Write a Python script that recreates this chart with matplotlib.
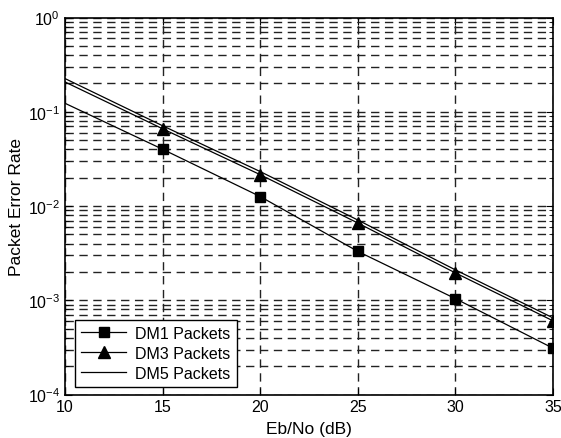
import numpy as np
import matplotlib.pyplot as plt
from matplotlib.ticker import LogLocator, NullFormatter

plt.rcParams['font.family'] = ['Liberation Sans', 'DejaVu Sans']

# data
ebno = [10, 15, 20, 25, 30, 35]
dm1 = [0.123, 0.040, 0.0126, 0.0033, 0.00104, 0.00031]
dm3 = [0.207, 0.066, 0.0215, 0.0066, 0.00195, 0.000605]
dm5 = [0.225, 0.071, 0.0232, 0.0071, 0.0021, 0.00065]
labels = ['DM1 Packets', 'DM3 Packets', 'DM5 Packets']

fig = plt.figure(figsize=(5.61, 4.39), dpi=100)
ax = fig.add_axes([65/561, 1-395.5/439, 488/561, 377/439])

lw = 0.9
ax.semilogy(ebno, dm1, c='k', lw=lw, marker='s', ms=7, markevery=range(1, 6), label=labels[0])
ax.semilogy(ebno, dm3, c='k', lw=lw, marker='^', ms=8, markevery=range(1, 6), label=labels[1])
ax.semilogy(ebno, dm5, c='k', lw=lw, label=labels[2])

ax.set_xlim(10, 35)
ax.set_ylim(1e-4, 1)
ax.set_xticks([10, 15, 20, 25, 30, 35])
ax.yaxis.set_major_locator(LogLocator(base=10, numticks=10))
ax.yaxis.set_minor_locator(LogLocator(base=10, subs=np.arange(2, 10), numticks=10))
ax.yaxis.set_minor_formatter(NullFormatter())

ax.grid(True, which='major', axis='both', color='#222222', ls=(0, (6, 4)), lw=1.0)
ax.grid(True, which='minor', axis='y', color='#222222', ls=(0, (6, 4)), lw=1.0)

ax.tick_params(which='both', direction='in', top=True, right=True, labelsize=11.5)
ax.tick_params(which='major', length=5)
ax.tick_params(which='minor', length=3)
for s in ax.spines.values():
    s.set_linewidth(1.2)

ax.set_xlabel('Eb/No (dB)', fontsize=12.5, labelpad=5)
ax.set_ylabel('Packet Error Rate', fontsize=12.5, labelpad=3)

leg = ax.legend(loc='lower left', bbox_to_anchor=(0.02, 0.02), fontsize=11.5,
                fancybox=False, framealpha=1, edgecolor='k', borderaxespad=0,
                handlelength=2.8, handletextpad=0.6, labelspacing=0.3)
leg.get_frame().set_linewidth(1.0)

fig.savefig('out.png', dpi=100)
